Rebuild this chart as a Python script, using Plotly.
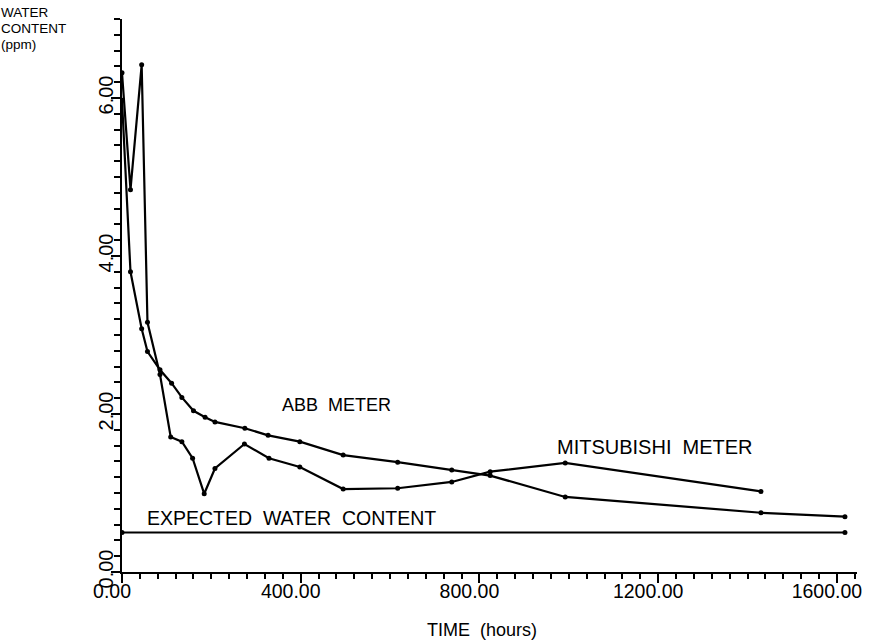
import plotly.graph_objects as go

# Time (hours) and water content (ppm) for each meter
abb_time = [0, 19, 44, 57, 85, 111, 134, 160, 186, 208, 275, 327, 398, 495, 617, 738, 824, 992, 1430, 1618]
abb_water = [5.97, 3.80, 3.08, 2.79, 2.56, 2.39, 2.21, 2.04, 1.96, 1.90, 1.82, 1.73, 1.65, 1.48, 1.39, 1.29, 1.22, 0.95, 0.75, 0.70]

mits_time = [0, 19, 44, 57, 85, 109, 134, 158, 184, 208, 274, 329, 398, 495, 617, 738, 824, 992, 1430]
mits_water = [6.32, 4.84, 6.42, 3.16, 2.50, 1.71, 1.65, 1.44, 0.99, 1.31, 1.62, 1.44, 1.33, 1.05, 1.06, 1.14, 1.27, 1.38, 1.02]

expected_time = [0, 1618]
expected_water = [0.50, 0.50]

x_ticks = [0, 400, 800, 1200, 1600]
y_ticks = [0, 2, 4, 6]

FONT = "Liberation Sans, Arial, sans-serif"
INK = "black"

fig = go.Figure()
for xs, ys in [(abb_time, abb_water), (mits_time, mits_water), (expected_time, expected_water)]:
    fig.add_trace(go.Scatter(
        x=xs, y=ys, mode="lines+markers",
        line=dict(color=INK, width=2.2),
        marker=dict(color=INK, size=5),
        showlegend=False, hoverinfo="skip",
    ))

fig.update_xaxes(
    range=[0, 1645], tickvals=x_ticks, tickformat=".2f",
    showline=True, linecolor=INK, linewidth=2, showgrid=False, zeroline=False,
    ticks="outside", ticklen=9, tickwidth=1.5, tickcolor=INK,
    minor=dict(dtick=40, ticks="outside", ticklen=5, tickwidth=1.5, tickcolor=INK, showgrid=False),
    tickfont=dict(family=FONT, size=19.5, color=INK),
    ticklabelstandoff=-8, ticklabelshift=-10,
)
fig.update_yaxes(
    range=[0, 7], tickvals=y_ticks, tickformat=".2f", tickangle=-90,
    showline=True, linecolor=INK, linewidth=2, showgrid=False, zeroline=False,
    ticks="outside", ticklen=9, tickwidth=1.5, tickcolor=INK,
    minor=dict(dtick=0.2, ticks="outside", ticklen=6, tickwidth=1.5, tickcolor=INK, showgrid=False),
    tickfont=dict(family=FONT, size=20, color=INK),
    ticklabelstandoff=-10,
)

fig.add_annotation(x=354, y=2.11, text="ABB  METER", showarrow=False,
                   xanchor="left", yanchor="middle",
                   font=dict(family=FONT, size=18, color=INK))
fig.add_annotation(x=969, y=1.58, text="MITSUBISHI  METER", showarrow=False,
                   xanchor="left", yanchor="middle",
                   font=dict(family=FONT, size=20, color=INK))
fig.add_annotation(x=51, y=0.68, text="EXPECTED  WATER  CONTENT", showarrow=False,
                   xanchor="left", yanchor="middle",
                   font=dict(family=FONT, size=19.5, color=INK))

# Y-axis title, stacked tightly in the top-left corner
title_font = dict(family=FONT, size=13.5, color=INK)
for i, line in enumerate(["WATER", "CONTENT", "(ppm)"]):
    py = 13 + 16 * i
    fig.add_annotation(xref="paper", yref="paper", x=-0.166, y=(572 - py) / 553,
                       text=line, showarrow=False, align="left",
                       xanchor="left", yanchor="middle", font=title_font,
                       borderpad=0)

fig.add_annotation(xref="paper", yref="paper", x=0.49, y=-0.105,
                   text="TIME  (hours)", showarrow=False,
                   xanchor="center", yanchor="middle",
                   font=dict(family=FONT, size=18, color=INK))

fig.update_layout(
    width=873, height=642, autosize=False,
    margin=dict(l=122, r=16, t=19, b=70),
    paper_bgcolor="white", plot_bgcolor="white",
)

fig.write_html("out.html")
